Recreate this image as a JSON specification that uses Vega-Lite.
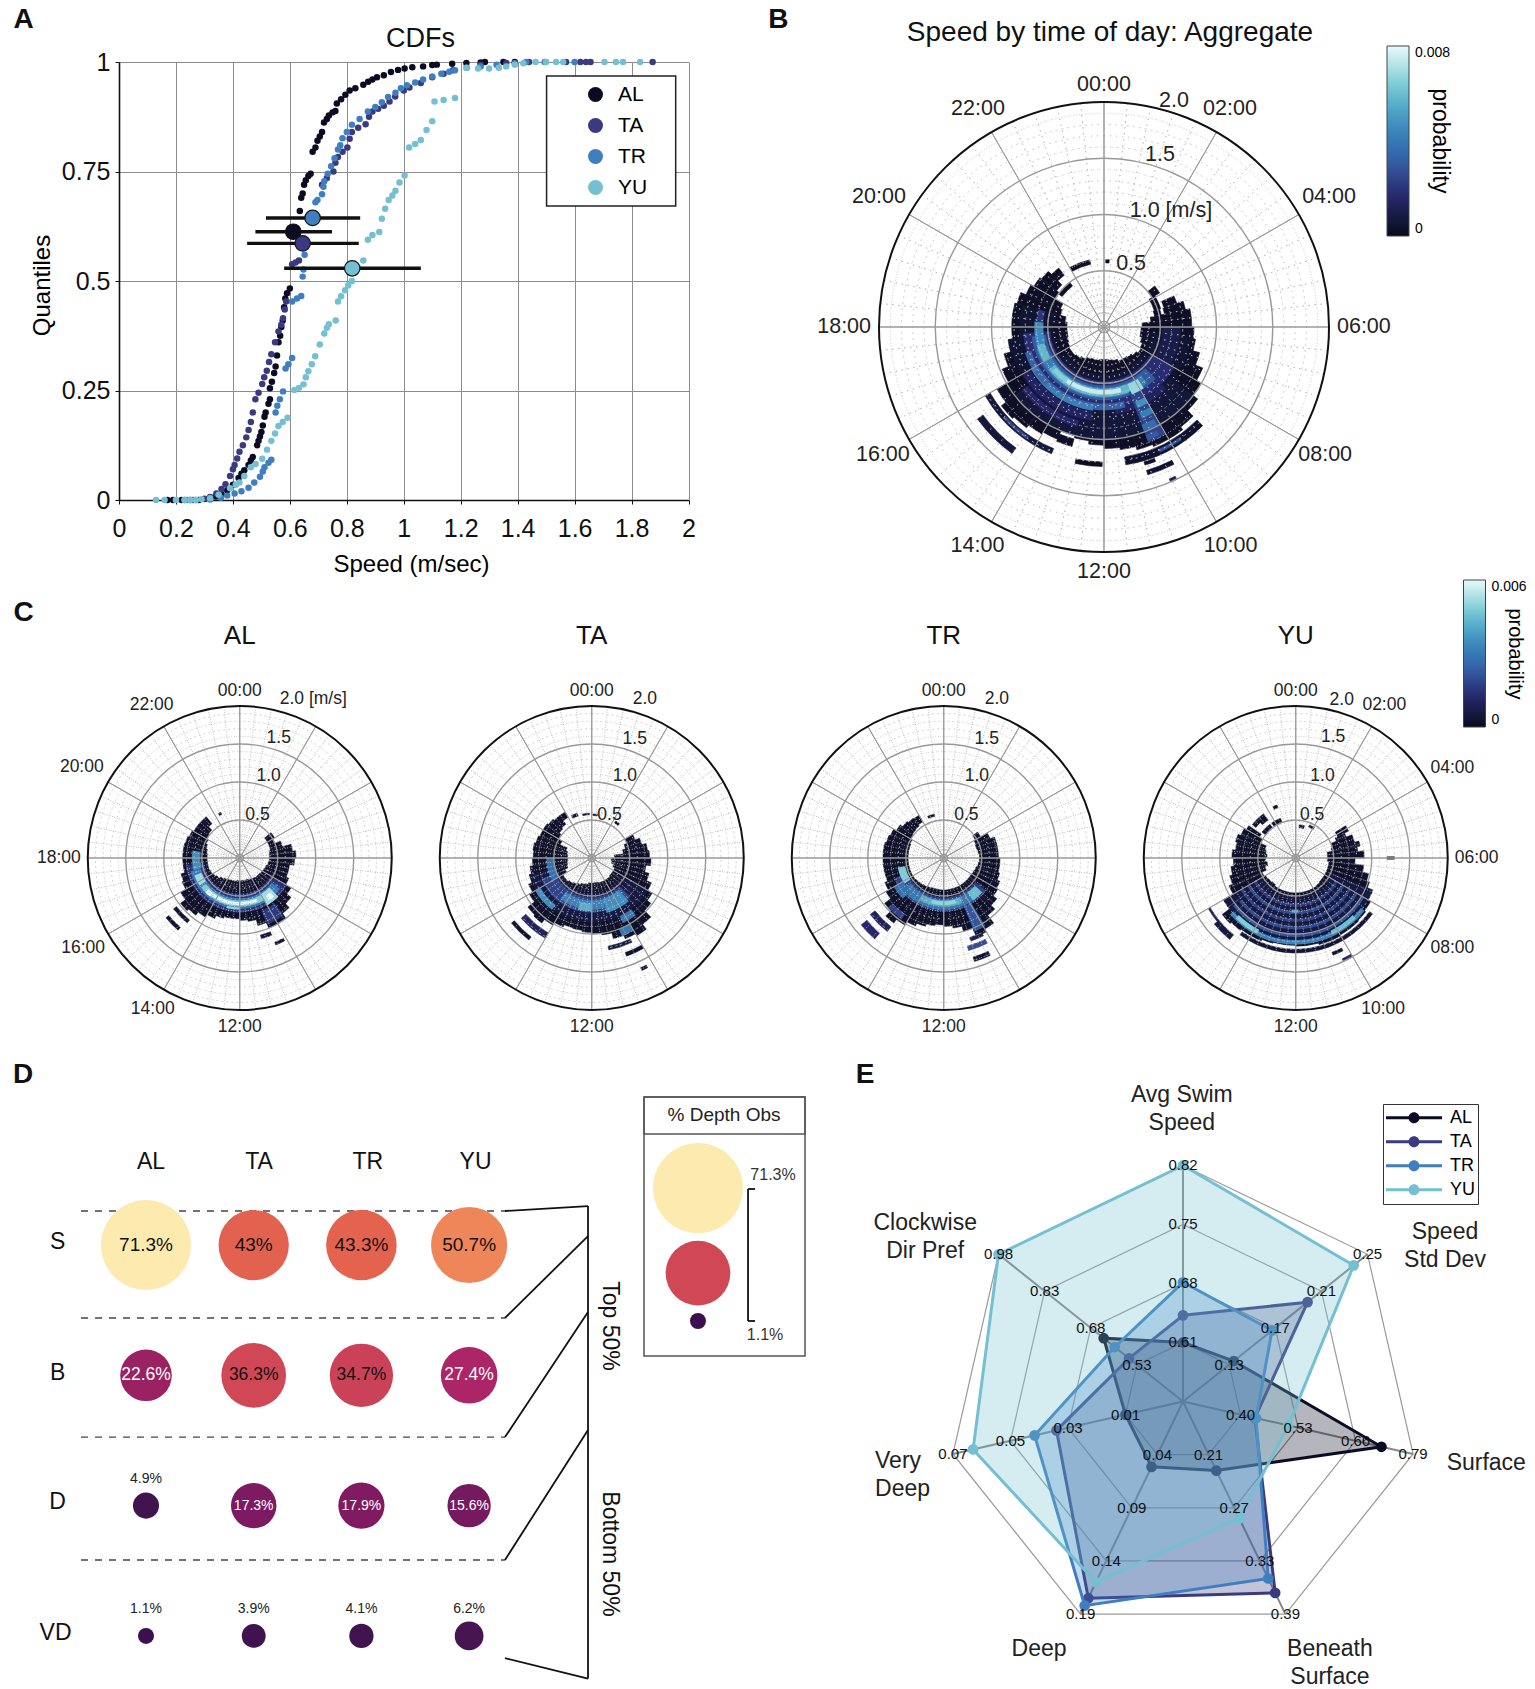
{"$schema":"https://vega.github.io/schema/vega-lite/v6.json","background":"white","padding":{"left":0,"top":5,"right":0,"bottom":0},"config":{"font":"Liberation Sans","view":{"stroke":null},"legend":{"titleFontWeight":"normal"}},
"datasets":{
"cdf":[
{"sp":"AL","x":0.17,"q":0},{"sp":"AL","x":0.19,"q":0},{"sp":"AL","x":0.22,"q":0},{"sp":"AL","x":0.25,"q":0},{"sp":"AL","x":0.28,"q":0},{"sp":"AL","x":0.3,"q":0.002},{"sp":"AL","x":0.32,"q":0.004},{"sp":"AL","x":0.34,"q":0.008},{"sp":"AL","x":0.36,"q":0.013},{"sp":"AL","x":0.38,"q":0.022},{"sp":"AL","x":0.4,"q":0.035},{"sp":"AL","x":0.42,"q":0.05},{"sp":"AL","x":0.43,"q":0.06},{"sp":"AL","x":0.44,"q":0.068},{"sp":"AL","x":0.455,"q":0.08},{"sp":"AL","x":0.463,"q":0.09},{"sp":"AL","x":0.47,"q":0.098},{"sp":"AL","x":0.485,"q":0.125},{"sp":"AL","x":0.49,"q":0.135},{"sp":"AL","x":0.495,"q":0.145},{"sp":"AL","x":0.5,"q":0.155},{"sp":"AL","x":0.505,"q":0.17},{"sp":"AL","x":0.511,"q":0.19},{"sp":"AL","x":0.515,"q":0.2},{"sp":"AL","x":0.525,"q":0.22},{"sp":"AL","x":0.53,"q":0.23},{"sp":"AL","x":0.53,"q":0.255},{"sp":"AL","x":0.537,"q":0.27},{"sp":"AL","x":0.545,"q":0.29},{"sp":"AL","x":0.55,"q":0.305},{"sp":"AL","x":0.555,"q":0.33},{"sp":"AL","x":0.56,"q":0.36},{"sp":"AL","x":0.566,"q":0.375},{"sp":"AL","x":0.57,"q":0.395},{"sp":"AL","x":0.575,"q":0.41},{"sp":"AL","x":0.58,"q":0.44},{"sp":"AL","x":0.584,"q":0.46},{"sp":"AL","x":0.59,"q":0.472},{"sp":"AL","x":0.6,"q":0.483},{"sp":"AL","x":0.635,"q":0.66},{"sp":"AL","x":0.64,"q":0.69},{"sp":"AL","x":0.645,"q":0.7},{"sp":"AL","x":0.65,"q":0.72},{"sp":"AL","x":0.656,"q":0.73},{"sp":"AL","x":0.665,"q":0.74},{"sp":"AL","x":0.673,"q":0.745},{"sp":"AL","x":0.68,"q":0.795},{"sp":"AL","x":0.69,"q":0.805},{"sp":"AL","x":0.697,"q":0.82},{"sp":"AL","x":0.705,"q":0.83},{"sp":"AL","x":0.713,"q":0.84},{"sp":"AL","x":0.72,"q":0.862},{"sp":"AL","x":0.73,"q":0.87},{"sp":"AL","x":0.737,"q":0.878},{"sp":"AL","x":0.75,"q":0.885},{"sp":"AL","x":0.76,"q":0.888},{"sp":"AL","x":0.765,"q":0.905},{"sp":"AL","x":0.78,"q":0.915},{"sp":"AL","x":0.795,"q":0.925},{"sp":"AL","x":0.81,"q":0.935},{"sp":"AL","x":0.83,"q":0.94},{"sp":"AL","x":0.858,"q":0.948},{"sp":"AL","x":0.875,"q":0.955},{"sp":"AL","x":0.89,"q":0.96},{"sp":"AL","x":0.906,"q":0.965},{"sp":"AL","x":0.93,"q":0.97},{"sp":"AL","x":0.955,"q":0.977},{"sp":"AL","x":0.98,"q":0.982},{"sp":"AL","x":1.003,"q":0.985},{"sp":"AL","x":1.03,"q":0.988},{"sp":"AL","x":1.068,"q":0.99},{"sp":"AL","x":1.1,"q":0.993},{"sp":"AL","x":1.116,"q":0.994},{"sp":"AL","x":1.17,"q":0.996},{"sp":"AL","x":1.22,"q":0.998},{"sp":"AL","x":1.27,"q":0.999},{"sp":"AL","x":1.285,"q":1},{"sp":"AL","x":1.35,"q":1},{"sp":"AL","x":1.39,"q":1},
{"sp":"TA","x":0.23,"q":0},{"sp":"TA","x":0.26,"q":0},{"sp":"TA","x":0.3,"q":0.003},{"sp":"TA","x":0.32,"q":0.007},{"sp":"TA","x":0.342,"q":0.015},{"sp":"TA","x":0.36,"q":0.025},{"sp":"TA","x":0.374,"q":0.036},{"sp":"TA","x":0.39,"q":0.055},{"sp":"TA","x":0.4,"q":0.07},{"sp":"TA","x":0.406,"q":0.08},{"sp":"TA","x":0.415,"q":0.095},{"sp":"TA","x":0.423,"q":0.11},{"sp":"TA","x":0.435,"q":0.125},{"sp":"TA","x":0.447,"q":0.143},{"sp":"TA","x":0.455,"q":0.16},{"sp":"TA","x":0.463,"q":0.178},{"sp":"TA","x":0.47,"q":0.2},{"sp":"TA","x":0.479,"q":0.23},{"sp":"TA","x":0.49,"q":0.245},{"sp":"TA","x":0.503,"q":0.265},{"sp":"TA","x":0.51,"q":0.28},{"sp":"TA","x":0.519,"q":0.295},{"sp":"TA","x":0.527,"q":0.315},{"sp":"TA","x":0.535,"q":0.333},{"sp":"TA","x":0.548,"q":0.36},{"sp":"TA","x":0.56,"q":0.385},{"sp":"TA","x":0.57,"q":0.4},{"sp":"TA","x":0.576,"q":0.415},{"sp":"TA","x":0.582,"q":0.435},{"sp":"TA","x":0.587,"q":0.453},{"sp":"TA","x":0.608,"q":0.538},{"sp":"TA","x":0.62,"q":0.542},{"sp":"TA","x":0.632,"q":0.547},{"sp":"TA","x":0.713,"q":0.72},{"sp":"TA","x":0.73,"q":0.735},{"sp":"TA","x":0.753,"q":0.75},{"sp":"TA","x":0.76,"q":0.77},{"sp":"TA","x":0.769,"q":0.783},{"sp":"TA","x":0.785,"q":0.795},{"sp":"TA","x":0.802,"q":0.805},{"sp":"TA","x":0.81,"q":0.825},{"sp":"TA","x":0.818,"q":0.84},{"sp":"TA","x":0.84,"q":0.85},{"sp":"TA","x":0.866,"q":0.858},{"sp":"TA","x":0.878,"q":0.875},{"sp":"TA","x":0.89,"q":0.887},{"sp":"TA","x":0.91,"q":0.893},{"sp":"TA","x":0.93,"q":0.9},{"sp":"TA","x":0.95,"q":0.91},{"sp":"TA","x":0.97,"q":0.921},{"sp":"TA","x":1,"q":0.935},{"sp":"TA","x":1.02,"q":0.942},{"sp":"TA","x":1.06,"q":0.952},{"sp":"TA","x":1.1,"q":0.965},{"sp":"TA","x":1.14,"q":0.973},{"sp":"TA","x":1.173,"q":0.981},{"sp":"TA","x":1.27,"q":0.994},{"sp":"TA","x":1.36,"q":0.998},{"sp":"TA","x":1.44,"q":1},{"sp":"TA","x":1.57,"q":1},{"sp":"TA","x":1.62,"q":1},{"sp":"TA","x":1.64,"q":1},{"sp":"TA","x":1.656,"q":1},{"sp":"TA","x":1.874,"q":1},
{"sp":"TR","x":0.24,"q":0},{"sp":"TR","x":0.27,"q":0},{"sp":"TR","x":0.32,"q":0.001},{"sp":"TR","x":0.358,"q":0.005},{"sp":"TR","x":0.38,"q":0.01},{"sp":"TR","x":0.406,"q":0.015},{"sp":"TR","x":0.43,"q":0.02},{"sp":"TR","x":0.455,"q":0.028},{"sp":"TR","x":0.475,"q":0.04},{"sp":"TR","x":0.495,"q":0.053},{"sp":"TR","x":0.505,"q":0.065},{"sp":"TR","x":0.511,"q":0.075},{"sp":"TR","x":0.525,"q":0.085},{"sp":"TR","x":0.535,"q":0.092},{"sp":"TR","x":0.55,"q":0.2},{"sp":"TR","x":0.556,"q":0.215},{"sp":"TR","x":0.565,"q":0.23},{"sp":"TR","x":0.576,"q":0.248},{"sp":"TR","x":0.585,"q":0.3},{"sp":"TR","x":0.595,"q":0.31},{"sp":"TR","x":0.608,"q":0.324},{"sp":"TR","x":0.608,"q":0.453},{"sp":"TR","x":0.625,"q":0.46},{"sp":"TR","x":0.64,"q":0.466},{"sp":"TR","x":0.645,"q":0.51},{"sp":"TR","x":0.648,"q":0.526},{"sp":"TR","x":0.652,"q":0.56},{"sp":"TR","x":0.656,"q":0.582},{"sp":"TR","x":0.69,"q":0.68},{"sp":"TR","x":0.697,"q":0.685},{"sp":"TR","x":0.713,"q":0.698},{"sp":"TR","x":0.718,"q":0.715},{"sp":"TR","x":0.721,"q":0.728},{"sp":"TR","x":0.733,"q":0.745},{"sp":"TR","x":0.745,"q":0.762},{"sp":"TR","x":0.757,"q":0.78},{"sp":"TR","x":0.769,"q":0.8},{"sp":"TR","x":0.777,"q":0.81},{"sp":"TR","x":0.785,"q":0.826},{"sp":"TR","x":0.8,"q":0.84},{"sp":"TR","x":0.818,"q":0.857},{"sp":"TR","x":0.845,"q":0.87},{"sp":"TR","x":0.874,"q":0.887},{"sp":"TR","x":0.9,"q":0.897},{"sp":"TR","x":0.923,"q":0.908},{"sp":"TR","x":0.945,"q":0.92},{"sp":"TR","x":0.971,"q":0.93},{"sp":"TR","x":0.99,"q":0.94},{"sp":"TR","x":1.011,"q":0.947},{"sp":"TR","x":1.04,"q":0.953},{"sp":"TR","x":1.068,"q":0.96},{"sp":"TR","x":1.1,"q":0.967},{"sp":"TR","x":1.132,"q":0.973},{"sp":"TR","x":1.16,"q":0.978},{"sp":"TR","x":1.18,"q":0.981},{"sp":"TR","x":1.221,"q":0.987},{"sp":"TR","x":1.27,"q":0.99},{"sp":"TR","x":1.326,"q":0.994},{"sp":"TR","x":1.39,"q":0.997},{"sp":"TR","x":1.43,"q":1},{"sp":"TR","x":1.495,"q":1},{"sp":"TR","x":1.6,"q":1},
{"sp":"YU","x":0.13,"q":0},{"sp":"YU","x":0.16,"q":0},{"sp":"YU","x":0.2,"q":0},{"sp":"YU","x":0.23,"q":0},{"sp":"YU","x":0.25,"q":0},{"sp":"YU","x":0.27,"q":0},{"sp":"YU","x":0.29,"q":0.002},{"sp":"YU","x":0.32,"q":0.004},{"sp":"YU","x":0.35,"q":0.012},{"sp":"YU","x":0.39,"q":0.027},{"sp":"YU","x":0.41,"q":0.035},{"sp":"YU","x":0.423,"q":0.04},{"sp":"YU","x":0.44,"q":0.055},{"sp":"YU","x":0.463,"q":0.075},{"sp":"YU","x":0.48,"q":0.082},{"sp":"YU","x":0.503,"q":0.094},{"sp":"YU","x":0.52,"q":0.115},{"sp":"YU","x":0.535,"q":0.135},{"sp":"YU","x":0.548,"q":0.152},{"sp":"YU","x":0.56,"q":0.169},{"sp":"YU","x":0.575,"q":0.178},{"sp":"YU","x":0.592,"q":0.188},{"sp":"YU","x":0.616,"q":0.251},{"sp":"YU","x":0.632,"q":0.256},{"sp":"YU","x":0.648,"q":0.264},{"sp":"YU","x":0.656,"q":0.28},{"sp":"YU","x":0.665,"q":0.294},{"sp":"YU","x":0.677,"q":0.31},{"sp":"YU","x":0.689,"q":0.328},{"sp":"YU","x":0.705,"q":0.355},{"sp":"YU","x":0.721,"q":0.38},{"sp":"YU","x":0.73,"q":0.393},{"sp":"YU","x":0.737,"q":0.401},{"sp":"YU","x":0.761,"q":0.41},{"sp":"YU","x":0.769,"q":0.453},{"sp":"YU","x":0.78,"q":0.465},{"sp":"YU","x":0.794,"q":0.479},{"sp":"YU","x":0.805,"q":0.49},{"sp":"YU","x":0.818,"q":0.5},{"sp":"YU","x":0.84,"q":0.53},{"sp":"YU","x":0.858,"q":0.547},{"sp":"YU","x":0.874,"q":0.594},{"sp":"YU","x":0.89,"q":0.605},{"sp":"YU","x":0.914,"q":0.612},{"sp":"YU","x":0.923,"q":0.642},{"sp":"YU","x":0.935,"q":0.665},{"sp":"YU","x":0.947,"q":0.685},{"sp":"YU","x":0.96,"q":0.695},{"sp":"YU","x":0.971,"q":0.706},{"sp":"YU","x":0.985,"q":0.725},{"sp":"YU","x":1.003,"q":0.741},{"sp":"YU","x":1.019,"q":0.805},{"sp":"YU","x":1.04,"q":0.813},{"sp":"YU","x":1.06,"q":0.822},{"sp":"YU","x":1.08,"q":0.845},{"sp":"YU","x":1.1,"q":0.865},{"sp":"YU","x":1.108,"q":0.91},{"sp":"YU","x":1.14,"q":0.913},{"sp":"YU","x":1.18,"q":0.918},{"sp":"YU","x":1.22,"q":0.987},{"sp":"YU","x":1.261,"q":0.985},{"sp":"YU","x":1.3,"q":0.985},{"sp":"YU","x":1.334,"q":0.987},{"sp":"YU","x":1.36,"q":0.99},{"sp":"YU","x":1.39,"q":0.994},{"sp":"YU","x":1.42,"q":0.997},{"sp":"YU","x":1.463,"q":1},{"sp":"YU","x":1.5,"q":1},{"sp":"YU","x":1.535,"q":1},{"sp":"YU","x":1.56,"q":1},{"sp":"YU","x":1.705,"q":1},{"sp":"YU","x":1.745,"q":1},{"sp":"YU","x":1.77,"q":1},{"sp":"YU","x":1.83,"q":1}],
"means":[{"sp":"AL","x":0.612,"lo":0.479,"hi":0.748,"q":0.6125},{"sp":"TA","x":0.645,"lo":0.45,"hi":0.842,"q":0.586},{"sp":"TR","x":0.68,"lo":0.516,"hi":0.847,"q":0.644},{"sp":"YU","x":0.819,"lo":0.58,"hi":1.06,"q":0.529}],
"dotRings":[{"h":0,"h2":24,"s":0.1,"s2":0.1},{"h":0,"h2":24,"s":0.2,"s2":0.2},{"h":0,"h2":24,"s":0.3,"s2":0.3},{"h":0,"h2":24,"s":0.4,"s2":0.4},{"h":0,"h2":24,"s":0.6,"s2":0.6},{"h":0,"h2":24,"s":0.7,"s2":0.7},{"h":0,"h2":24,"s":0.8,"s2":0.8},{"h":0,"h2":24,"s":0.9,"s2":0.9},{"h":0,"h2":24,"s":1.1,"s2":1.1},{"h":0,"h2":24,"s":1.2,"s2":1.2},{"h":0,"h2":24,"s":1.3,"s2":1.3},{"h":0,"h2":24,"s":1.4,"s2":1.4},{"h":0,"h2":24,"s":1.6,"s2":1.6},{"h":0,"h2":24,"s":1.7,"s2":1.7},{"h":0,"h2":24,"s":1.8,"s2":1.8},{"h":0,"h2":24,"s":1.9,"s2":1.9}],
"dotSpokes":[{"h":0.4,"h2":0.4,"s":0.1,"s2":2},{"h":0.8,"h2":0.8,"s":0.1,"s2":2},{"h":1.2,"h2":1.2,"s":0.1,"s2":2},{"h":1.6,"h2":1.6,"s":0.1,"s2":2},{"h":2.4,"h2":2.4,"s":0.1,"s2":2},{"h":2.8,"h2":2.8,"s":0.1,"s2":2},{"h":3.2,"h2":3.2,"s":0.1,"s2":2},{"h":3.6,"h2":3.6,"s":0.1,"s2":2},{"h":4.4,"h2":4.4,"s":0.1,"s2":2},{"h":4.8,"h2":4.8,"s":0.1,"s2":2},{"h":5.2,"h2":5.2,"s":0.1,"s2":2},{"h":5.6,"h2":5.6,"s":0.1,"s2":2},{"h":6.4,"h2":6.4,"s":0.1,"s2":2},{"h":6.8,"h2":6.8,"s":0.1,"s2":2},{"h":7.2,"h2":7.2,"s":0.1,"s2":2},{"h":7.6,"h2":7.6,"s":0.1,"s2":2},{"h":8.4,"h2":8.4,"s":0.1,"s2":2},{"h":8.8,"h2":8.8,"s":0.1,"s2":2},{"h":9.2,"h2":9.2,"s":0.1,"s2":2},{"h":9.6,"h2":9.6,"s":0.1,"s2":2},{"h":10.4,"h2":10.4,"s":0.1,"s2":2},{"h":10.8,"h2":10.8,"s":0.1,"s2":2},{"h":11.2,"h2":11.2,"s":0.1,"s2":2},{"h":11.6,"h2":11.6,"s":0.1,"s2":2},{"h":12.4,"h2":12.4,"s":0.1,"s2":2},{"h":12.8,"h2":12.8,"s":0.1,"s2":2},{"h":13.2,"h2":13.2,"s":0.1,"s2":2},{"h":13.6,"h2":13.6,"s":0.1,"s2":2},{"h":14.4,"h2":14.4,"s":0.1,"s2":2},{"h":14.8,"h2":14.8,"s":0.1,"s2":2},{"h":15.2,"h2":15.2,"s":0.1,"s2":2},{"h":15.6,"h2":15.6,"s":0.1,"s2":2},{"h":16.4,"h2":16.4,"s":0.1,"s2":2},{"h":16.8,"h2":16.8,"s":0.1,"s2":2},{"h":17.2,"h2":17.2,"s":0.1,"s2":2},{"h":17.6,"h2":17.6,"s":0.1,"s2":2},{"h":18.4,"h2":18.4,"s":0.1,"s2":2},{"h":18.8,"h2":18.8,"s":0.1,"s2":2},{"h":19.2,"h2":19.2,"s":0.1,"s2":2},{"h":19.6,"h2":19.6,"s":0.1,"s2":2},{"h":20.4,"h2":20.4,"s":0.1,"s2":2},{"h":20.8,"h2":20.8,"s":0.1,"s2":2},{"h":21.2,"h2":21.2,"s":0.1,"s2":2},{"h":21.6,"h2":21.6,"s":0.1,"s2":2},{"h":22.4,"h2":22.4,"s":0.1,"s2":2},{"h":22.8,"h2":22.8,"s":0.1,"s2":2},{"h":23.2,"h2":23.2,"s":0.1,"s2":2},{"h":23.6,"h2":23.6,"s":0.1,"s2":2}],
"rings":[{"h":0,"h2":24,"s":0.05,"s2":0.05},{"h":0,"h2":24,"s":0.5,"s2":0.5},{"h":0,"h2":24,"s":1,"s2":1},{"h":0,"h2":24,"s":1.5,"s2":1.5}],
"rim":[{"h":0,"h2":24,"s":2,"s2":2}],
"spokes":[{"h":0,"h2":0,"s":0,"s2":2},{"h":2,"h2":2,"s":0,"s2":2},{"h":4,"h2":4,"s":0,"s2":2},{"h":6,"h2":6,"s":0,"s2":2},{"h":8,"h2":8,"s":0,"s2":2},{"h":10,"h2":10,"s":0,"s2":2},{"h":12,"h2":12,"s":0,"s2":2},{"h":14,"h2":14,"s":0,"s2":2},{"h":16,"h2":16,"s":0,"s2":2},{"h":18,"h2":18,"s":0,"s2":2},{"h":20,"h2":20,"s":0,"s2":2},{"h":22,"h2":22,"s":0,"s2":2}],
"heatB":[
{"h":3.4,"h2":3.9,"s":0.5,"s2":0.58,"p":0.0002},{"h":3.9,"h2":4.8,"s":0.47,"s2":0.53,"p":0.0002},{"h":4.4,"h2":4.8,"s":0.56,"s2":0.68,"p":0.0002},{"h":4.8,"h2":5.2,"s":0.55,"s2":0.74,"p":0.0002},{"h":4.8,"h2":5.2,"s":0.46,"s2":0.52,"p":0.0002},{"h":5.2,"h2":5.6,"s":0.42,"s2":0.78,"p":0.0002},{"h":5.6,"h2":6,"s":0.34,"s2":0.78,"p":0.0002},{"h":6,"h2":6.5,"s":0.33,"s2":0.8,"p":0.0002},{"h":6.5,"h2":7,"s":0.33,"s2":0.82,"p":0.0002},{"h":7,"h2":7.5,"s":0.35,"s2":0.88,"p":0.0002},{"h":7.5,"h2":8,"s":0.37,"s2":0.95,"p":0.0002},{"h":8,"h2":8.5,"s":0.38,"s2":1,"p":0.0002},{"h":8.5,"h2":9,"s":0.36,"s2":1.05,"p":0.0002},{"h":9,"h2":9.5,"s":0.34,"s2":1.12,"p":0.0002},{"h":9.5,"h2":10,"s":0.33,"s2":1.15,"p":0.0002},{"h":10,"h2":10.5,"s":0.33,"s2":1.15,"p":0.0002},{"h":10.5,"h2":11,"s":0.31,"s2":1.13,"p":0.0002},{"h":11,"h2":11.5,"s":0.3,"s2":1.1,"p":0.0002},{"h":11.5,"h2":12,"s":0.29,"s2":1.08,"p":0.0002},{"h":12,"h2":12.5,"s":0.29,"s2":1.05,"p":0.0002},{"h":12.5,"h2":13,"s":0.3,"s2":1.02,"p":0.0002},{"h":13,"h2":13.5,"s":0.3,"s2":1,"p":0.0002},{"h":13,"h2":13.5,"s":1.03,"s2":1.1,"p":0.0002},{"h":13.5,"h2":14,"s":0.31,"s2":1.08,"p":0.0002},{"h":14,"h2":14.5,"s":0.33,"s2":1.1,"p":0.0002},{"h":14.5,"h2":15,"s":0.35,"s2":1.13,"p":0.0002},{"h":15,"h2":15.5,"s":0.36,"s2":1.15,"p":0.0002},{"h":15.5,"h2":16,"s":0.36,"s2":1.1,"p":0.0002},{"h":16,"h2":16.5,"s":0.35,"s2":0.98,"p":0.0002},{"h":16.5,"h2":17,"s":0.34,"s2":0.92,"p":0.0002},{"h":17,"h2":17.5,"s":0.33,"s2":0.86,"p":0.0002},{"h":17.5,"h2":18,"s":0.33,"s2":0.82,"p":0.0002},{"h":18,"h2":18.5,"s":0.33,"s2":0.82,"p":0.0002},{"h":18.5,"h2":19,"s":0.35,"s2":0.82,"p":0.0002},{"h":19,"h2":19.5,"s":0.4,"s2":0.8,"p":0.0002},{"h":19.5,"h2":20,"s":0.42,"s2":0.75,"p":0.0002},{"h":20,"h2":20.5,"s":0.5,"s2":0.72,"p":0.0002},{"h":20.5,"h2":21,"s":0.53,"s2":0.7,"p":0.0002},{"h":21,"h2":21.5,"s":0.58,"s2":0.66,"p":0.0002},{"h":20.4,"h2":21.5,"s":0.46,"s2":0.5,"p":0.0002},{"h":22,"h2":23.2,"s":0.57,"s2":0.61,"p":0.0002},{"h":0.1,"h2":0.3,"s":0.57,"s2":0.6,"p":0.0001},
{"h":13.5,"h2":16,"s":1.17,"s2":1.22,"p":0.0006},{"h":14.3,"h2":15.2,"s":1.18,"s2":1.21,"p":0.0025},{"h":14.4,"h2":15.6,"s":1.33,"s2":1.39,"p":0.0006},{"h":12.05,"h2":12.8,"s":1.2,"s2":1.24,"p":0.0001},{"h":9,"h2":11.4,"s":1.17,"s2":1.24,"p":0.0004},{"h":9.7,"h2":10.4,"s":1.19,"s2":1.22,"p":0.0028},{"h":10.2,"h2":10.9,"s":1.33,"s2":1.37,"p":0.0004},{"h":10.3,"h2":10.45,"s":1.47,"s2":1.5,"p":0.0012},{"h":10.6,"h2":10.9,"s":1.25,"s2":1.28,"p":0.0002},
{"h":8.5,"h2":15.5,"s":0.42,"s2":1,"p":0.0006},{"h":6.5,"h2":8.5,"s":0.42,"s2":0.78,"p":0.0005},{"h":15.5,"h2":17.5,"s":0.45,"s2":0.85,"p":0.0005},{"h":17.5,"h2":19,"s":0.45,"s2":0.75,"p":0.0005},{"h":6,"h2":9,"s":0.52,"s2":0.68,"p":0.001},{"h":8,"h2":17.7,"s":0.48,"s2":0.72,"p":0.0018},{"h":12.5,"h2":16,"s":0.76,"s2":0.84,"p":0.0014},{"h":13,"h2":15.5,"s":0.86,"s2":0.92,"p":0.0016},{"h":9,"h2":11.5,"s":0.72,"s2":0.78,"p":0.0014},{"h":11,"h2":16.8,"s":0.68,"s2":0.74,"p":0.0032},{"h":12.5,"h2":16,"s":0.7,"s2":0.75,"p":0.0042},{"h":9,"h2":17.5,"s":0.52,"s2":0.65,"p":0.003},{"h":9.5,"h2":16.8,"s":0.54,"s2":0.63,"p":0.0042},{"h":10,"h2":15.5,"s":0.55,"s2":0.62,"p":0.0058},{"h":11,"h2":14.5,"s":0.56,"s2":0.6,"p":0.0075},{"h":14.3,"h2":15.3,"s":0.56,"s2":0.6,"p":0.0065},{"h":16,"h2":17,"s":0.55,"s2":0.62,"p":0.0058},{"h":17,"h2":18.3,"s":0.54,"s2":0.62,"p":0.0045},{"h":18.3,"h2":19,"s":0.54,"s2":0.6,"p":0.002},{"h":10,"h2":10.6,"s":0.62,"s2":1.1,"p":0.0024},{"h":9.8,"h2":10.5,"s":0.55,"s2":0.65,"p":0.0068},{"h":10,"h2":10.5,"s":0.72,"s2":0.78,"p":0.0048},{"h":10,"h2":10.5,"s":0.82,"s2":0.88,"p":0.0042},{"h":10.1,"h2":10.6,"s":0.93,"s2":0.99,"p":0.0036},{"h":10.2,"h2":10.6,"s":1.03,"s2":1.08,"p":0.003},{"h":15,"h2":15.8,"s":0.68,"s2":0.74,"p":0.0035}],
"heatAL":[
{"h":3.4,"h2":4,"s":0.42,"s2":0.53,"p":0.0002},{"h":4,"h2":4.5,"s":0.42,"s2":0.5,"p":0.0002},{"h":4.5,"h2":5,"s":0.42,"s2":0.58,"p":0.0002},{"h":5,"h2":5.5,"s":0.4,"s2":0.7,"p":0.0002},{"h":5.5,"h2":6,"s":0.39,"s2":0.74,"p":0.0002},{"h":6,"h2":6.5,"s":0.39,"s2":0.72,"p":0.0002},{"h":6.5,"h2":7,"s":0.38,"s2":0.66,"p":0.0002},{"h":7,"h2":7.5,"s":0.36,"s2":0.66,"p":0.0002},{"h":7.5,"h2":8,"s":0.35,"s2":0.7,"p":0.0002},{"h":8,"h2":8.5,"s":0.34,"s2":0.78,"p":0.0002},{"h":8.5,"h2":9,"s":0.33,"s2":0.85,"p":0.0002},{"h":9,"h2":9.5,"s":0.33,"s2":0.92,"p":0.0002},{"h":9.5,"h2":10,"s":0.32,"s2":1,"p":0.0002},{"h":10,"h2":10.5,"s":0.31,"s2":1,"p":0.0002},{"h":10.5,"h2":11,"s":0.3,"s2":0.92,"p":0.0002},{"h":11,"h2":11.5,"s":0.3,"s2":0.84,"p":0.0002},{"h":11.5,"h2":12,"s":0.3,"s2":0.82,"p":0.0002},{"h":12,"h2":12.5,"s":0.3,"s2":0.8,"p":0.0002},{"h":12.5,"h2":13,"s":0.31,"s2":0.8,"p":0.0002},{"h":13,"h2":13.5,"s":0.31,"s2":0.82,"p":0.0002},{"h":13.5,"h2":14,"s":0.32,"s2":0.86,"p":0.0002},{"h":14,"h2":14.5,"s":0.33,"s2":0.9,"p":0.0002},{"h":14.5,"h2":15,"s":0.35,"s2":0.95,"p":0.0002},{"h":15,"h2":15.5,"s":0.38,"s2":0.98,"p":0.0002},{"h":15.5,"h2":16,"s":0.4,"s2":0.9,"p":0.0002},{"h":16,"h2":16.5,"s":0.42,"s2":0.82,"p":0.0002},{"h":16.5,"h2":17,"s":0.43,"s2":0.8,"p":0.0002},{"h":17,"h2":17.5,"s":0.43,"s2":0.75,"p":0.0002},{"h":17.5,"h2":18,"s":0.43,"s2":0.75,"p":0.0002},{"h":18,"h2":18.5,"s":0.43,"s2":0.75,"p":0.0002},{"h":18.5,"h2":19,"s":0.44,"s2":0.75,"p":0.0002},{"h":19,"h2":19.5,"s":0.46,"s2":0.74,"p":0.0002},{"h":19.5,"h2":20,"s":0.48,"s2":0.72,"p":0.0002},{"h":20,"h2":20.5,"s":0.5,"s2":0.7,"p":0.0002},{"h":20.5,"h2":21,"s":0.52,"s2":0.7,"p":0.0002},{"h":21,"h2":21.4,"s":0.58,"s2":0.7,"p":0.0002},
{"h":14.6,"h2":15.5,"s":1.05,"s2":1.1,"p":0.0004},{"h":14.7,"h2":15.4,"s":1.2,"s2":1.25,"p":0.0003},{"h":10.5,"h2":11,"s":1.05,"s2":1.1,"p":0.0006},{"h":10.1,"h2":10.5,"s":1.2,"s2":1.24,"p":0.0004},{"h":22.3,"h2":22.5,"s":0.62,"s2":0.65,"p":0.0001},
{"h":8,"h2":17.5,"s":0.47,"s2":0.72,"p":0.0014},{"h":8.5,"h2":17,"s":0.53,"s2":0.67,"p":0.003},{"h":9,"h2":15.5,"s":0.56,"s2":0.64,"p":0.0048},{"h":10.5,"h2":14.5,"s":0.58,"s2":0.62,"p":0.006},{"h":9,"h2":10,"s":0.55,"s2":0.72,"p":0.0052},{"h":15.7,"h2":16.6,"s":0.54,"s2":0.64,"p":0.0052},{"h":17,"h2":18.6,"s":0.52,"s2":0.63,"p":0.0035},{"h":9.2,"h2":9.7,"s":0.6,"s2":0.68,"p":0.006},{"h":14.5,"h2":15,"s":0.58,"s2":0.64,"p":0.006},{"h":12,"h2":13,"s":0.65,"s2":0.68,"p":0.005},{"h":9.5,"h2":10.5,"s":0.75,"s2":0.95,"p":0.0016}],
"heatTA":[
{"h":4,"h2":4.5,"s":0.5,"s2":0.62,"p":0.0002},{"h":4.5,"h2":5,"s":0.46,"s2":0.68,"p":0.0002},{"h":5,"h2":5.5,"s":0.42,"s2":0.74,"p":0.0002},{"h":5.5,"h2":6,"s":0.3,"s2":0.76,"p":0.0002},{"h":6,"h2":6.5,"s":0.26,"s2":0.78,"p":0.0002},{"h":6.5,"h2":7,"s":0.27,"s2":0.72,"p":0.0002},{"h":7,"h2":7.5,"s":0.3,"s2":0.78,"p":0.0002},{"h":7.5,"h2":8,"s":0.33,"s2":0.85,"p":0.0002},{"h":8,"h2":8.5,"s":0.33,"s2":0.92,"p":0.0002},{"h":8.5,"h2":9,"s":0.33,"s2":0.98,"p":0.0002},{"h":9,"h2":9.5,"s":0.34,"s2":1.1,"p":0.0002},{"h":9.5,"h2":10,"s":0.34,"s2":1.18,"p":0.0002},{"h":10,"h2":10.5,"s":0.34,"s2":1.15,"p":0.0002},{"h":10.5,"h2":11,"s":0.34,"s2":1.1,"p":0.0002},{"h":11,"h2":11.5,"s":0.33,"s2":1.02,"p":0.0002},{"h":11.5,"h2":12,"s":0.33,"s2":1,"p":0.0002},{"h":12,"h2":12.5,"s":0.33,"s2":0.98,"p":0.0002},{"h":12.5,"h2":13,"s":0.35,"s2":0.96,"p":0.0002},{"h":13,"h2":13.5,"s":0.36,"s2":0.95,"p":0.0002},{"h":13.5,"h2":14,"s":0.38,"s2":0.98,"p":0.0002},{"h":14,"h2":14.5,"s":0.4,"s2":1.02,"p":0.0002},{"h":14.5,"h2":15,"s":0.42,"s2":1.08,"p":0.0002},{"h":15,"h2":15.5,"s":0.44,"s2":1.06,"p":0.0002},{"h":15.5,"h2":16,"s":0.44,"s2":0.95,"p":0.0002},{"h":16,"h2":16.5,"s":0.38,"s2":0.9,"p":0.0002},{"h":16.5,"h2":17,"s":0.34,"s2":0.85,"p":0.0002},{"h":17,"h2":17.5,"s":0.33,"s2":0.82,"p":0.0002},{"h":17.5,"h2":18,"s":0.32,"s2":0.78,"p":0.0002},{"h":18,"h2":18.5,"s":0.32,"s2":0.77,"p":0.0002},{"h":18.5,"h2":19,"s":0.33,"s2":0.78,"p":0.0002},{"h":19,"h2":19.5,"s":0.35,"s2":0.76,"p":0.0002},{"h":19.5,"h2":20,"s":0.45,"s2":0.74,"p":0.0002},{"h":20,"h2":20.5,"s":0.5,"s2":0.74,"p":0.0002},{"h":20.5,"h2":21,"s":0.54,"s2":0.72,"p":0.0002},{"h":21,"h2":21.5,"s":0.56,"s2":0.7,"p":0.0002},{"h":21.5,"h2":22,"s":0.62,"s2":0.7,"p":0.0002},
{"h":14.5,"h2":15.4,"s":1.31,"s2":1.36,"p":0.0003},{"h":14,"h2":15.3,"s":1.14,"s2":1.22,"p":0.001},{"h":10.3,"h2":11.3,"s":1.18,"s2":1.23,"p":0.0006},{"h":10,"h2":10.7,"s":1.32,"s2":1.37,"p":0.0003},{"h":10.2,"h2":10.4,"s":1.58,"s2":1.62,"p":0.0003},{"h":22.3,"h2":22.8,"s":0.58,"s2":0.62,"p":0.0001},{"h":23.2,"h2":23.8,"s":0.57,"s2":0.59,"p":0.0001},{"h":0.1,"h2":0.5,"s":0.56,"s2":0.58,"p":0.0001},{"h":2.2,"h2":2.6,"s":0.55,"s2":0.58,"p":0.0001},
{"h":8,"h2":17,"s":0.45,"s2":0.85,"p":0.0006},{"h":9,"h2":16.5,"s":0.52,"s2":0.72,"p":0.0018},{"h":9.3,"h2":11,"s":0.55,"s2":0.75,"p":0.0035},{"h":11,"h2":14.5,"s":0.56,"s2":0.68,"p":0.0032},{"h":12,"h2":13,"s":0.6,"s2":0.7,"p":0.0042},{"h":14.5,"h2":16,"s":0.78,"s2":0.86,"p":0.0035},{"h":16,"h2":18,"s":0.5,"s2":0.6,"p":0.0028},{"h":9.5,"h2":10.3,"s":0.85,"s2":0.95,"p":0.003},{"h":10,"h2":10.6,"s":1,"s2":1.1,"p":0.003}],
"heatTR":[
{"h":3.5,"h2":4,"s":0.48,"s2":0.56,"p":0.0002},{"h":4,"h2":4.5,"s":0.46,"s2":0.66,"p":0.0002},{"h":4.5,"h2":5,"s":0.45,"s2":0.72,"p":0.0002},{"h":5,"h2":5.5,"s":0.46,"s2":0.72,"p":0.0002},{"h":5.5,"h2":6,"s":0.47,"s2":0.72,"p":0.0002},{"h":6,"h2":6.5,"s":0.47,"s2":0.74,"p":0.0002},{"h":6.5,"h2":7,"s":0.46,"s2":0.74,"p":0.0002},{"h":7,"h2":7.5,"s":0.44,"s2":0.76,"p":0.0002},{"h":7.5,"h2":8,"s":0.43,"s2":0.8,"p":0.0002},{"h":8,"h2":8.5,"s":0.42,"s2":0.82,"p":0.0002},{"h":8.5,"h2":9,"s":0.42,"s2":0.88,"p":0.0002},{"h":9,"h2":9.5,"s":0.42,"s2":0.95,"p":0.0002},{"h":9.5,"h2":10,"s":0.42,"s2":1.08,"p":0.0002},{"h":10,"h2":10.5,"s":0.42,"s2":1.12,"p":0.0002},{"h":10.5,"h2":11,"s":0.42,"s2":1,"p":0.0002},{"h":11,"h2":11.5,"s":0.42,"s2":0.93,"p":0.0002},{"h":11.5,"h2":12,"s":0.42,"s2":0.9,"p":0.0002},{"h":12,"h2":12.5,"s":0.42,"s2":0.88,"p":0.0002},{"h":12.5,"h2":13,"s":0.42,"s2":0.9,"p":0.0002},{"h":13,"h2":13.5,"s":0.42,"s2":0.93,"p":0.0002},{"h":13.5,"h2":14,"s":0.43,"s2":0.97,"p":0.0002},{"h":14,"h2":14.5,"s":0.44,"s2":1.02,"p":0.0002},{"h":14.5,"h2":15,"s":0.45,"s2":1.08,"p":0.0002},{"h":15,"h2":15.5,"s":0.46,"s2":0.98,"p":0.0002},{"h":15.5,"h2":16,"s":0.47,"s2":0.88,"p":0.0002},{"h":16,"h2":16.5,"s":0.47,"s2":0.84,"p":0.0002},{"h":16.5,"h2":17,"s":0.47,"s2":0.8,"p":0.0002},{"h":17,"h2":17.5,"s":0.47,"s2":0.8,"p":0.0002},{"h":17.5,"h2":18,"s":0.47,"s2":0.8,"p":0.0002},{"h":18,"h2":18.5,"s":0.47,"s2":0.8,"p":0.0002},{"h":18.5,"h2":19,"s":0.47,"s2":0.8,"p":0.0002},{"h":19,"h2":19.5,"s":0.47,"s2":0.78,"p":0.0002},{"h":19.5,"h2":20,"s":0.48,"s2":0.76,"p":0.0002},{"h":20,"h2":20.5,"s":0.5,"s2":0.72,"p":0.0002},{"h":20.5,"h2":21,"s":0.52,"s2":0.68,"p":0.0002},{"h":21,"h2":21.5,"s":0.53,"s2":0.66,"p":0.0002},{"h":21.5,"h2":22,"s":0.55,"s2":0.65,"p":0.0002},
{"h":14.5,"h2":15.5,"s":1.14,"s2":1.22,"p":0.001},{"h":14.7,"h2":15.4,"s":1.3,"s2":1.4,"p":0.0012},{"h":10.2,"h2":11,"s":1.2,"s2":1.26,"p":0.002},{"h":10.3,"h2":10.9,"s":1.36,"s2":1.42,"p":0.0003},{"h":10.2,"h2":10.8,"s":1.1,"s2":1.15,"p":0.0008},{"h":22.6,"h2":23.2,"s":0.56,"s2":0.59,"p":0.0002},
{"h":8.5,"h2":16.5,"s":0.52,"s2":0.7,"p":0.0018},{"h":9.5,"h2":15.5,"s":0.55,"s2":0.68,"p":0.003},{"h":10.5,"h2":14,"s":0.56,"s2":0.64,"p":0.0042},{"h":11,"h2":13,"s":0.57,"s2":0.62,"p":0.005},{"h":15.8,"h2":17.2,"s":0.52,"s2":0.62,"p":0.0048},{"h":8.8,"h2":9.7,"s":0.55,"s2":0.68,"p":0.0045},{"h":9.9,"h2":10.5,"s":0.7,"s2":1.05,"p":0.0022},{"h":15,"h2":16,"s":0.62,"s2":0.76,"p":0.0028},{"h":14.3,"h2":15.2,"s":0.9,"s2":0.98,"p":0.0018}],
"heatYU":[
{"h":3.8,"h2":4.2,"s":0.62,"s2":0.78,"p":0.0002},{"h":4.2,"h2":4.5,"s":0.58,"s2":0.72,"p":0.0002},{"h":4.5,"h2":5,"s":0.5,"s2":0.8,"p":0.0002},{"h":5,"h2":5.3,"s":0.48,"s2":0.86,"p":0.0002},{"h":5.3,"h2":5.6,"s":0.42,"s2":0.82,"p":0.0002},{"h":5.6,"h2":6,"s":0.42,"s2":0.9,"p":0.0002},{"h":6,"h2":6.4,"s":0.42,"s2":0.78,"p":0.0002},{"h":6.4,"h2":6.8,"s":0.44,"s2":0.9,"p":0.0002},{"h":6.8,"h2":7.2,"s":0.44,"s2":0.98,"p":0.0002},{"h":7.2,"h2":7.6,"s":0.44,"s2":1.02,"p":0.0002},{"h":7.6,"h2":8,"s":0.44,"s2":1.1,"p":0.0002},{"h":8,"h2":8.5,"s":0.44,"s2":1.14,"p":0.0002},{"h":8.5,"h2":9,"s":0.44,"s2":1.16,"p":0.0002},{"h":9,"h2":9.5,"s":0.45,"s2":1.17,"p":0.0002},{"h":9.5,"h2":10,"s":0.46,"s2":1.17,"p":0.0002},{"h":10,"h2":10.5,"s":0.46,"s2":1.18,"p":0.0002},{"h":10.5,"h2":11,"s":0.46,"s2":1.18,"p":0.0002},{"h":11,"h2":12,"s":0.46,"s2":1.16,"p":0.0002},{"h":12,"h2":13,"s":0.46,"s2":1.15,"p":0.0002},{"h":13,"h2":13.5,"s":0.46,"s2":1.16,"p":0.0002},{"h":13.5,"h2":14,"s":0.46,"s2":1.18,"p":0.0002},{"h":14,"h2":14.5,"s":0.46,"s2":1.18,"p":0.0002},{"h":14.5,"h2":15,"s":0.44,"s2":1.2,"p":0.0002},{"h":15,"h2":15.5,"s":0.45,"s2":1.22,"p":0.0002},{"h":15.5,"h2":16,"s":0.46,"s2":1.1,"p":0.0002},{"h":16,"h2":16.5,"s":0.48,"s2":0.95,"p":0.0002},{"h":16.5,"h2":17,"s":0.42,"s2":0.9,"p":0.0002},{"h":17,"h2":17.5,"s":0.38,"s2":0.86,"p":0.0002},{"h":17.5,"h2":18,"s":0.4,"s2":0.82,"p":0.0002},{"h":18,"h2":18.5,"s":0.38,"s2":0.84,"p":0.0002},{"h":18.5,"h2":19,"s":0.4,"s2":0.8,"p":0.0002},{"h":19,"h2":19.5,"s":0.42,"s2":0.82,"p":0.0002},{"h":19.5,"h2":20,"s":0.5,"s2":0.78,"p":0.0002},{"h":20,"h2":20.3,"s":0.55,"s2":0.75,"p":0.0002},
{"h":20.5,"h2":21,"s":0.66,"s2":0.72,"p":0.0002},{"h":21,"h2":21.6,"s":0.62,"s2":0.72,"p":0.0002},{"h":22.4,"h2":22.7,"s":0.7,"s2":0.74,"p":0.0002},{"h":21.7,"h2":22.6,"s":0.5,"s2":0.56,"p":0.0002},{"h":20.5,"h2":21.5,"s":0.5,"s2":0.56,"p":0.0002},{"h":0.4,"h2":1,"s":0.4,"s2":0.44,"p":0.0002},{"h":1.5,"h2":2.1,"s":0.44,"s2":0.47,"p":0.0002},{"h":5.95,"h2":6.05,"s":1.2,"s2":1.3,"p":0.0002},{"h":8.4,"h2":14.4,"s":1.2,"s2":1.25,"p":0.0004},{"h":14.6,"h2":15.4,"s":1.3,"s2":1.38,"p":0.0006},{"h":15.4,"h2":16,"s":1.3,"s2":1.33,"p":0.0008},{"h":10.2,"h2":10.6,"s":1.33,"s2":1.37,"p":0.0004},{"h":10,"h2":10.35,"s":1.46,"s2":1.5,"p":0.0012},
{"h":7.5,"h2":16,"s":0.5,"s2":1.1,"p":0.0006},{"h":8,"h2":16,"s":0.6,"s2":0.64,"p":0.0017},{"h":8,"h2":16,"s":0.7,"s2":0.74,"p":0.002},{"h":8,"h2":16,"s":0.8,"s2":0.84,"p":0.0018},{"h":8,"h2":15.5,"s":0.9,"s2":0.94,"p":0.002},{"h":8,"h2":15.5,"s":1,"s2":1.04,"p":0.0022},{"h":8.5,"h2":15.3,"s":1.08,"s2":1.14,"p":0.0032},{"h":13.8,"h2":15,"s":1.06,"s2":1.12,"p":0.0048},{"h":9,"h2":10.3,"s":1.06,"s2":1.12,"p":0.0045},{"h":11.8,"h2":12.3,"s":0.68,"s2":0.72,"p":0.004}],
"radar":[
{"ring":1,"k":0,"r":1},{"ring":1,"k":1,"r":1},{"ring":1,"k":2,"r":1},{"ring":1,"k":3,"r":1},{"ring":1,"k":4,"r":1},{"ring":1,"k":5,"r":1},{"ring":1,"k":6,"r":1},
{"ring":2,"k":0,"r":2},{"ring":2,"k":1,"r":2},{"ring":2,"k":2,"r":2},{"ring":2,"k":3,"r":2},{"ring":2,"k":4,"r":2},{"ring":2,"k":5,"r":2},{"ring":2,"k":6,"r":2},
{"ring":3,"k":0,"r":3},{"ring":3,"k":1,"r":3},{"ring":3,"k":2,"r":3},{"ring":3,"k":3,"r":3},{"ring":3,"k":4,"r":3},{"ring":3,"k":5,"r":3},{"ring":3,"k":6,"r":3},
{"ring":4,"k":0,"r":4},{"ring":4,"k":1,"r":4},{"ring":4,"k":2,"r":4},{"ring":4,"k":3,"r":4},{"ring":4,"k":4,"r":4},{"ring":4,"k":5,"r":4},{"ring":4,"k":6,"r":4},
{"spoke":1,"k":0,"r":4},{"spoke":1,"k":1,"r":4},{"spoke":1,"k":2,"r":4},{"spoke":1,"k":3,"r":4},{"spoke":1,"k":4,"r":4},{"spoke":1,"k":5,"r":4},{"spoke":1,"k":6,"r":4},
{"sp":"AL","k":0,"r":1},{"sp":"AL","k":1,"r":1.1},{"sp":"AL","k":2,"r":3.45},{"sp":"AL","k":3,"r":1.3},{"sp":"AL","k":4,"r":1.23},{"sp":"AL","k":5,"r":1},{"sp":"AL","k":6,"r":1.72},
{"sp":"TA","k":0,"r":1.46},{"sp":"TA","k":1,"r":2.7},{"sp":"TA","k":2,"r":1.25},{"sp":"TA","k":3,"r":3.6},{"sp":"TA","k":4,"r":3.7},{"sp":"TA","k":5,"r":2.2},{"sp":"TA","k":6,"r":1.17},
{"sp":"TR","k":0,"r":2.02},{"sp":"TR","k":1,"r":1.93},{"sp":"TR","k":2,"r":1.27},{"sp":"TR","k":3,"r":3.33},{"sp":"TR","k":4,"r":3.84},{"sp":"TR","k":5,"r":2.58},{"sp":"TR","k":6,"r":1.48},
{"sp":"YU","k":0,"r":4},{"sp":"YU","k":1,"r":3.7},{"sp":"YU","k":2,"r":1.83},{"sp":"YU","k":3,"r":2.2},{"sp":"YU","k":4,"r":3.4},{"sp":"YU","k":5,"r":3.65},{"sp":"YU","k":6,"r":4},
{"t":"0.61","k":0,"r":1},{"t":"0.68","k":0,"r":2},{"t":"0.75","k":0,"r":3},{"t":"0.82","k":0,"r":4},
{"t":"0.13","k":1,"r":1},{"t":"0.17","k":1,"r":2},{"t":"0.21","k":1,"r":3},{"t":"0.25","k":1,"r":4},
{"t":"0.40","k":2,"r":1},{"t":"0.53","k":2,"r":2},{"t":"0.66","k":2,"r":3},{"t":"0.79","k":2,"r":4},
{"t":"0.21","k":3,"r":1},{"t":"0.27","k":3,"r":2},{"t":"0.33","k":3,"r":3},{"t":"0.39","k":3,"r":4},
{"t":"0.04","k":4,"r":1},{"t":"0.09","k":4,"r":2},{"t":"0.14","k":4,"r":3},{"t":"0.19","k":4,"r":4},
{"t":"0.01","k":5,"r":1},{"t":"0.03","k":5,"r":2},{"t":"0.05","k":5,"r":3},{"t":"0.07","k":5,"r":4},
{"t":"0.53","k":6,"r":1},{"t":"0.68","k":6,"r":2},{"t":"0.83","k":6,"r":3},{"t":"0.98","k":6,"r":4}]
},
"spacing":-12,
"resolve":{"scale":{"color":"independent","size":"independent","theta":"independent","radius":"independent"},"legend":{"color":"independent"}},
"vconcat":[
{"bounds":"flush","spacing":0,"resolve":{"scale":{"color":"independent","size":"independent","theta":"independent","radius":"independent"},"legend":{"color":"independent"}},
"hconcat":[
{"width":118.5,"height":1,"data":{"values":[]},"mark":{"type":"text"},"encoding":{}},
{"width":569.5,"height":438,
"encoding":{"x":{"field":"x","type":"quantitative","scale":{"domain":[0,2],"nice":false},"axis":{"values":[0,0.2,0.4,0.6,0.8,1,1.2,1.4,1.6,1.8,2],"format":".1~f","title":"Speed (m/sec)","titleFontSize":24,"titleFontWeight":"normal","titleX":292,"titleY":52,"labelFontSize":25,"labelPadding":12,"labelColor":"#111","grid":true,"gridColor":"#8c8c8c","domainColor":"#111","domainWidth":1.6,"tickColor":"#111","tickSize":4,"labelOverlap":false,"labelFlush":false}},
"y":{"field":"q","type":"quantitative","scale":{"domain":[0,1],"nice":false},"axis":{"values":[0,0.25,0.5,0.75,1],"format":".2~f","title":"Quantiles","titleFontSize":24,"titleFontWeight":"normal","titleX":-65,"titleY":223,"labelFontSize":25,"labelPadding":5,"labelColor":"#111","grid":true,"gridColor":"#8c8c8c","domainColor":"#111","domainWidth":1.6,"tickColor":"#111","tickSize":4,"labelOverlap":false,"labelFlush":false}}},
"layer":[
{"data":{"values":[{"x":1.5016,"x2":1.955,"q":0.968,"q2":0.671}]},"mark":{"type":"rect","fill":"white","stroke":"#222","strokeWidth":1.5},"encoding":{"x2":{"field":"x2"},"y2":{"field":"q2"}}},
{"data":{"name":"cdf"},"mark":{"type":"point","filled":true,"opacity":1,"size":42},"encoding":{"color":{"field":"sp","type":"nominal","scale":{"domain":["AL","TA","TR","YU"],"range":["#0b0b24","#3b3a80","#3f7fc0","#74c0d2"]},"legend":{"orient":"none","legendX":466,"legendY":22,"title":null,"symbolType":"circle","symbolSize":225,"labelFontSize":21,"labelOffset":12,"rowPadding":9,"padding":0,"symbolOpacity":1}}}},
{"data":{"name":"means"},"mark":{"type":"rule","stroke":"#111","strokeWidth":3.4},"encoding":{"x":{"field":"lo","type":"quantitative"},"x2":{"field":"hi"}}},
{"data":{"name":"means"},"mark":{"type":"point","filled":true,"opacity":1,"size":240,"stroke":"#111","strokeWidth":1.2},"encoding":{"fill":{"field":"sp","type":"nominal","scale":{"domain":["AL","TA","TR","YU"],"range":["#0b0b24","#3b3a80","#3f7fc0","#74c0d2"]},"legend":null}}},
{"data":{"values":[{"x":1.059,"q":1.052,"t":"CDFs"}]},"mark":{"type":"text","fontSize":27,"color":"#111"},"encoding":{"text":{"field":"t"}}},
{"data":{"values":[{"x":-0.335,"q":1.096,"t":"A"}]},"mark":{"type":"text","fontSize":28,"fontWeight":"bold","color":"#111"},"encoding":{"text":{"field":"t"}}}
]},
{"width":830,"height":530,
"encoding":{"theta":{"field":"h","type":"quantitative","scale":{"domain":[0,24],"range":[0,6.28319]}},"radius":{"field":"s","type":"quantitative","scale":{"type":"linear","domain":[0,2],"range":[0,225]}}},
"layer":[
{"data":{"name":"heatB"},"mark":{"type":"arc","fill":null,"stroke":"#0d0d28","strokeWidth":0.6},"encoding":{"theta2":{"field":"h2"},"radius2":{"field":"s2"}}},
{"data":{"name":"heatB"},"mark":{"type":"arc"},"encoding":{"theta2":{"field":"h2"},"radius2":{"field":"s2"},"color":{"field":"p","type":"quantitative","scale":{"domain":[0,0.0016,0.0032,0.0048,0.0064,0.008],"range":["#09091e","#26266a","#3561a8","#4391bf","#7ccdd6","#e8fafa"]},"legend":{"orient":"none","legendX":698,"legendY":-16,"title":"probability","titleOrient":"right","titleAnchor":"middle","titleFontSize":23,"titlePadding":-22,"gradientLength":190,"gradientThickness":22,"gradientStrokeColor":"#444","gradientStrokeWidth":1,"values":[0,0.008],"format":".3~f","labelFontSize":14,"labelOffset":6}}}},
{"data":{"name":"dotRings"},"mark":{"type":"arc","fill":null,"stroke":"#c6c6c6","strokeWidth":1,"strokeDash":[1,5]},"encoding":{"theta2":{"field":"h2"},"radius2":{"field":"s2"}}},
{"data":{"name":"dotSpokes"},"mark":{"type":"arc","fill":null,"stroke":"#b8b8b8","strokeWidth":1,"strokeDash":[1,5]},"encoding":{"theta2":{"field":"h2"},"radius2":{"field":"s2"}}},
{"data":{"name":"spokes"},"mark":{"type":"arc","fill":null,"stroke":"#999","strokeWidth":1},"encoding":{"theta2":{"field":"h2"},"radius2":{"field":"s2"}}},
{"data":{"name":"rings"},"mark":{"type":"arc","fill":null,"stroke":"#999","strokeWidth":1.4},"encoding":{"theta2":{"field":"h2"},"radius2":{"field":"s2"}}},
{"data":{"name":"rim"},"mark":{"type":"arc","fill":null,"stroke":"#111","strokeWidth":2},"encoding":{"theta2":{"field":"h2"},"radius2":{"field":"s2"}}},
{"data":{"values":[{"h":0,"s":2.155,"t":"00:00"},{"h":2,"s":2.24,"t":"02:00"},{"h":4,"s":2.31,"t":"04:00"},{"h":6,"s":2.31,"t":"06:00"},{"h":8,"s":2.27,"t":"08:00"},{"h":10,"s":2.25,"t":"10:00"},{"h":12,"s":2.18,"t":"12:00"},{"h":14,"s":2.25,"t":"14:00"},{"h":16,"s":2.27,"t":"16:00"},{"h":18,"s":2.31,"t":"18:00"},{"h":20,"s":2.31,"t":"20:00"},{"h":22,"s":2.24,"t":"22:00"},{"h":1.15,"s":2.1,"t":"2.0"},{"h":1.2,"s":1.61,"t":"1.5"},{"h":2,"s":1.19,"t":"1.0 [m/s]"},{"h":1.55,"s":0.61,"t":"0.5"}]},"mark":{"type":"text","fontSize":21.5,"color":"#222"},"encoding":{"text":{"field":"t"}}},
{"data":{"values":[{"h":0.078,"s":2.61,"t":"Speed by time of day: Aggregate"}]},"mark":{"type":"text","fontSize":28,"color":"#111"},"encoding":{"text":{"field":"t"}}},
{"data":{"values":[{"h":20.89,"s":3.98,"t":"B"}]},"mark":{"type":"text","fontSize":28,"fontWeight":"bold","color":"#111"},"encoding":{"text":{"field":"t"}}}
]}
]},
{"bounds":"flush","spacing":0,"resolve":{"scale":{"color":"independent","size":"independent","theta":"independent","radius":"independent"},"legend":{"color":"independent"}},
"hconcat":[
{"width":64,"height":380,"data":{"values":[]},"mark":{"type":"text"},"encoding":{}},
{"width":351.5,"height":380,
"encoding":{"theta":{"field":"h","type":"quantitative","scale":{"domain":[0,24],"range":[0,6.28319]}},"radius":{"field":"s","type":"quantitative","scale":{"type":"linear","domain":[0,2],"range":[0,152]}}},
"layer":[
{"data":{"name":"heatAL"},"mark":{"type":"arc","fill":null,"stroke":"#0d0d28","strokeWidth":0.5},"encoding":{"theta2":{"field":"h2"},"radius2":{"field":"s2"}}},
{"data":{"name":"heatAL"},"mark":{"type":"arc"},"encoding":{"theta2":{"field":"h2"},"radius2":{"field":"s2"},"color":{"field":"p","type":"quantitative","scale":{"domain":[0,0.0012,0.0024,0.0036,0.0048,0.006],"range":["#09091e","#26266a","#3561a8","#4391bf","#7ccdd6","#e8fafa"]},"legend":null}}},
{"data":{"name":"dotRings"},"mark":{"type":"arc","fill":null,"stroke":"#c6c6c6","strokeWidth":0.9,"strokeDash":[1,4]},"encoding":{"theta2":{"field":"h2"},"radius2":{"field":"s2"}}},
{"data":{"name":"dotSpokes"},"mark":{"type":"arc","fill":null,"stroke":"#b8b8b8","strokeWidth":0.9,"strokeDash":[1,4]},"encoding":{"theta2":{"field":"h2"},"radius2":{"field":"s2"}}},
{"data":{"name":"spokes"},"mark":{"type":"arc","fill":null,"stroke":"#999","strokeWidth":1},"encoding":{"theta2":{"field":"h2"},"radius2":{"field":"s2"}}},
{"data":{"name":"rings"},"mark":{"type":"arc","fill":null,"stroke":"#999","strokeWidth":1.4},"encoding":{"theta2":{"field":"h2"},"radius2":{"field":"s2"}}},
{"data":{"name":"rim"},"mark":{"type":"arc","fill":null,"stroke":"#111","strokeWidth":2},"encoding":{"theta2":{"field":"h2"},"radius2":{"field":"s2"}}},
{"data":{"values":[{"h":0,"s":2.2,"t":"00:00"},{"h":22,"s":2.32,"t":"22:00"},{"h":20,"s":2.4,"t":"20:00"},{"h":18,"s":2.38,"t":"18:00"},{"h":16,"s":2.38,"t":"16:00"},{"h":14,"s":2.29,"t":"14:00"},{"h":12,"s":2.22,"t":"12:00"},{"h":1.65,"s":2.31,"t":"2.0 [m/s]"},{"h":1.2,"s":1.66,"t":"1.5"},{"h":1.3,"s":1.14,"t":"1.0"},{"h":1.5,"s":0.61,"t":"0.5"}]},"mark":{"type":"text","fontSize":17.5,"color":"#222"},"encoding":{"text":{"field":"t"}}},
{"data":{"values":[{"h":0,"s":2.92,"t":"AL"}]},"mark":{"type":"text","fontSize":26,"color":"#111"},"encoding":{"text":{"field":"t"}}},
{"data":{"values":[{"h":21.24,"s":4.3,"t":"C"}]},"mark":{"type":"text","fontSize":28,"fontWeight":"bold","color":"#111"},"encoding":{"text":{"field":"t"}}}
]},
{"width":351.5,"height":380,
"encoding":{"theta":{"field":"h","type":"quantitative","scale":{"domain":[0,24],"range":[0,6.28319]}},"radius":{"field":"s","type":"quantitative","scale":{"type":"linear","domain":[0,2],"range":[0,152]}}},
"layer":[
{"data":{"name":"heatTA"},"mark":{"type":"arc","fill":null,"stroke":"#0d0d28","strokeWidth":0.5},"encoding":{"theta2":{"field":"h2"},"radius2":{"field":"s2"}}},
{"data":{"name":"heatTA"},"mark":{"type":"arc"},"encoding":{"theta2":{"field":"h2"},"radius2":{"field":"s2"},"color":{"field":"p","type":"quantitative","scale":{"domain":[0,0.0012,0.0024,0.0036,0.0048,0.006],"range":["#09091e","#26266a","#3561a8","#4391bf","#7ccdd6","#e8fafa"]},"legend":null}}},
{"data":{"name":"dotRings"},"mark":{"type":"arc","fill":null,"stroke":"#c6c6c6","strokeWidth":0.9,"strokeDash":[1,4]},"encoding":{"theta2":{"field":"h2"},"radius2":{"field":"s2"}}},
{"data":{"name":"dotSpokes"},"mark":{"type":"arc","fill":null,"stroke":"#b8b8b8","strokeWidth":0.9,"strokeDash":[1,4]},"encoding":{"theta2":{"field":"h2"},"radius2":{"field":"s2"}}},
{"data":{"name":"spokes"},"mark":{"type":"arc","fill":null,"stroke":"#999","strokeWidth":1},"encoding":{"theta2":{"field":"h2"},"radius2":{"field":"s2"}}},
{"data":{"name":"rings"},"mark":{"type":"arc","fill":null,"stroke":"#999","strokeWidth":1.4},"encoding":{"theta2":{"field":"h2"},"radius2":{"field":"s2"}}},
{"data":{"name":"rim"},"mark":{"type":"arc","fill":null,"stroke":"#111","strokeWidth":2},"encoding":{"theta2":{"field":"h2"},"radius2":{"field":"s2"}}},
{"data":{"values":[{"h":0,"s":2.2,"t":"00:00"},{"h":12,"s":2.22,"t":"12:00"},{"h":1.23,"s":2.21,"t":"2.0"},{"h":1.32,"s":1.67,"t":"1.5"},{"h":1.47,"s":1.16,"t":"1.0"},{"h":1.5,"s":0.61,"t":"0.5"}]},"mark":{"type":"text","fontSize":17.5,"color":"#222"},"encoding":{"text":{"field":"t"}}},
{"data":{"values":[{"h":0,"s":2.92,"t":"TA"}]},"mark":{"type":"text","fontSize":26,"color":"#111"},"encoding":{"text":{"field":"t"}}}
]},
{"width":351.5,"height":380,
"encoding":{"theta":{"field":"h","type":"quantitative","scale":{"domain":[0,24],"range":[0,6.28319]}},"radius":{"field":"s","type":"quantitative","scale":{"type":"linear","domain":[0,2],"range":[0,152]}}},
"layer":[
{"data":{"name":"heatTR"},"mark":{"type":"arc","fill":null,"stroke":"#0d0d28","strokeWidth":0.5},"encoding":{"theta2":{"field":"h2"},"radius2":{"field":"s2"}}},
{"data":{"name":"heatTR"},"mark":{"type":"arc"},"encoding":{"theta2":{"field":"h2"},"radius2":{"field":"s2"},"color":{"field":"p","type":"quantitative","scale":{"domain":[0,0.0012,0.0024,0.0036,0.0048,0.006],"range":["#09091e","#26266a","#3561a8","#4391bf","#7ccdd6","#e8fafa"]},"legend":null}}},
{"data":{"name":"dotRings"},"mark":{"type":"arc","fill":null,"stroke":"#c6c6c6","strokeWidth":0.9,"strokeDash":[1,4]},"encoding":{"theta2":{"field":"h2"},"radius2":{"field":"s2"}}},
{"data":{"name":"dotSpokes"},"mark":{"type":"arc","fill":null,"stroke":"#b8b8b8","strokeWidth":0.9,"strokeDash":[1,4]},"encoding":{"theta2":{"field":"h2"},"radius2":{"field":"s2"}}},
{"data":{"name":"spokes"},"mark":{"type":"arc","fill":null,"stroke":"#999","strokeWidth":1},"encoding":{"theta2":{"field":"h2"},"radius2":{"field":"s2"}}},
{"data":{"name":"rings"},"mark":{"type":"arc","fill":null,"stroke":"#999","strokeWidth":1.4},"encoding":{"theta2":{"field":"h2"},"radius2":{"field":"s2"}}},
{"data":{"name":"rim"},"mark":{"type":"arc","fill":null,"stroke":"#111","strokeWidth":2},"encoding":{"theta2":{"field":"h2"},"radius2":{"field":"s2"}}},
{"data":{"values":[{"h":0,"s":2.2,"t":"00:00"},{"h":12,"s":2.22,"t":"12:00"},{"h":1.23,"s":2.21,"t":"2.0"},{"h":1.32,"s":1.67,"t":"1.5"},{"h":1.47,"s":1.16,"t":"1.0"},{"h":1.85,"s":0.64,"t":"0.5"}]},"mark":{"type":"text","fontSize":17.5,"color":"#222"},"encoding":{"text":{"field":"t"}}},
{"data":{"values":[{"h":0,"s":2.92,"t":"TR"}]},"mark":{"type":"text","fontSize":26,"color":"#111"},"encoding":{"text":{"field":"t"}}}
]},
{"width":351.5,"height":380,
"encoding":{"theta":{"field":"h","type":"quantitative","scale":{"domain":[0,24],"range":[0,6.28319]}},"radius":{"field":"s","type":"quantitative","scale":{"type":"linear","domain":[0,2],"range":[0,152]}}},
"layer":[
{"data":{"name":"heatYU"},"mark":{"type":"arc","fill":null,"stroke":"#0d0d28","strokeWidth":0.5},"encoding":{"theta2":{"field":"h2"},"radius2":{"field":"s2"}}},
{"data":{"name":"heatYU"},"mark":{"type":"arc"},"encoding":{"theta2":{"field":"h2"},"radius2":{"field":"s2"},"color":{"field":"p","type":"quantitative","scale":{"domain":[0,0.0012,0.0024,0.0036,0.0048,0.006],"range":["#09091e","#26266a","#3561a8","#4391bf","#7ccdd6","#e8fafa"]},"legend":{"orient":"none","legendX":343.5,"legendY":-88,"title":"probability","titleOrient":"right","titleAnchor":"middle","titleFontSize":20,"titlePadding":-22,"gradientLength":147,"gradientThickness":22,"gradientStrokeColor":"#444","gradientStrokeWidth":1,"values":[0,0.006],"format":".3~f","labelFontSize":14,"labelOffset":6}}}},
{"data":{"name":"dotRings"},"mark":{"type":"arc","fill":null,"stroke":"#c6c6c6","strokeWidth":0.9,"strokeDash":[1,4]},"encoding":{"theta2":{"field":"h2"},"radius2":{"field":"s2"}}},
{"data":{"name":"dotSpokes"},"mark":{"type":"arc","fill":null,"stroke":"#b8b8b8","strokeWidth":0.9,"strokeDash":[1,4]},"encoding":{"theta2":{"field":"h2"},"radius2":{"field":"s2"}}},
{"data":{"name":"spokes"},"mark":{"type":"arc","fill":null,"stroke":"#999","strokeWidth":1},"encoding":{"theta2":{"field":"h2"},"radius2":{"field":"s2"}}},
{"data":{"name":"rings"},"mark":{"type":"arc","fill":null,"stroke":"#999","strokeWidth":1.4},"encoding":{"theta2":{"field":"h2"},"radius2":{"field":"s2"}}},
{"data":{"name":"rim"},"mark":{"type":"arc","fill":null,"stroke":"#111","strokeWidth":2},"encoding":{"theta2":{"field":"h2"},"radius2":{"field":"s2"}}},
{"data":{"values":[{"h":0,"s":2.2,"t":"00:00"},{"h":2,"s":2.33,"t":"02:00"},{"h":4,"s":2.38,"t":"04:00"},{"h":6,"s":2.38,"t":"06:00"},{"h":8,"s":2.38,"t":"08:00"},{"h":10,"s":2.3,"t":"10:00"},{"h":12,"s":2.22,"t":"12:00"},{"h":1.08,"s":2.17,"t":"2.0"},{"h":1.14,"s":1.67,"t":"1.5"},{"h":1.2,"s":1.14,"t":"1.0"},{"h":1.4,"s":0.6,"t":"0.5"}]},"mark":{"type":"text","fontSize":17.5,"color":"#222"},"encoding":{"text":{"field":"t"}}},
{"data":{"values":[{"h":0,"s":2.92,"t":"YU"}]},"mark":{"type":"text","fontSize":26,"color":"#111"},"encoding":{"text":{"field":"t"}}}
]}
]},
{"bounds":"flush","spacing":0,"resolve":{"scale":{"color":"independent","size":"independent","theta":"independent","radius":"independent"},"legend":{"color":"independent"}},
"hconcat":[
{"width":820,"height":642,
"encoding":{"x":{"field":"i","type":"quantitative","scale":{"domain":[-1.3556,6.258],"nice":false,"zero":false},"axis":null},"y":{"field":"j","type":"quantitative","scale":{"domain":[3.415,-1.512],"nice":false,"zero":false},"axis":null}},
"layer":[
{"data":{"values":[{"i":-0.6035,"i2":3.333,"j":-0.261},{"i":-0.6035,"i2":3.333,"j":0.56},{"i":-0.6035,"i2":3.333,"j":1.474},{"i":-0.6035,"i2":3.333,"j":2.417}]},"mark":{"type":"rule","stroke":"#444","strokeWidth":1.4,"strokeDash":[7,7]},"encoding":{"x2":{"field":"i2"}}},
{"data":{"values":[{"i":3.333,"j":-0.261,"i2":4.104,"j2":-0.299},{"i":3.333,"j":0.56,"i2":4.104,"j2":-0.069},{"i":3.333,"j":1.474,"i2":4.104,"j2":0.514},{"i":3.333,"j":2.417,"i2":4.104,"j2":1.42},{"i":3.333,"j":3.17,"i2":4.104,"j2":3.327},{"i":4.104,"j":-0.299,"i2":4.104,"j2":3.327},{"i":5.59,"j":-0.43,"i2":5.59,"j2":0.583},{"i":5.59,"j":-0.43,"i2":5.655,"j2":-0.43},{"i":5.59,"j":0.583,"i2":5.655,"j2":0.583}]},"mark":{"type":"rule","stroke":"#111","strokeWidth":1.8},"encoding":{"x2":{"field":"i2"},"y2":{"field":"j2"}}},
{"data":{"values":[{"i":4.624,"i2":6.119,"j":-1.136,"j2":0.852},{"i":4.624,"i2":6.119,"j":-1.136,"j2":-0.852}]},"mark":{"type":"rect","fill":null,"stroke":"#555","strokeWidth":1.5},"encoding":{"x2":{"field":"i2"},"y2":{"field":"j2"}}},
{"data":{"values":[{"sp":"AL","i":0,"j":0,"pct":71.3},{"sp":"TA","i":1,"j":0,"pct":43},{"sp":"TR","i":2,"j":0,"pct":43.3},{"sp":"YU","i":3,"j":0,"pct":50.7},{"sp":"AL","i":0,"j":1,"pct":22.6},{"sp":"TA","i":1,"j":1,"pct":36.3},{"sp":"TR","i":2,"j":1,"pct":34.7},{"sp":"YU","i":3,"j":1,"pct":27.4},{"sp":"AL","i":0,"j":2,"pct":4.9},{"sp":"TA","i":1,"j":2,"pct":17.3},{"sp":"TR","i":2,"j":2,"pct":17.9},{"sp":"YU","i":3,"j":2,"pct":15.6},{"sp":"AL","i":0,"j":3,"pct":1.1},{"sp":"TA","i":1,"j":3,"pct":3.9},{"sp":"TR","i":2,"j":3,"pct":4.1},{"sp":"YU","i":3,"j":3,"pct":6.2},{"sp":"key","i":5.125,"j":-0.437,"pct":71.3},{"sp":"key","i":5.125,"j":0.215,"pct":36.3},{"sp":"key","i":5.125,"j":0.583,"pct":1.1}]},"mark":{"type":"point","filled":true,"opacity":1},"encoding":{"size":{"field":"pct","type":"quantitative","scale":{"domain":[1.1,71.3],"range":[256,8100],"zero":false},"legend":null},"color":{"field":"pct","type":"quantitative","scale":{"domain":[1.1,4.9,15.6,17.3,22.6,27.4,34.7,43,50.7,71.3],"range":["#3c1050","#42144f","#761a60","#7d1a61","#9b2262","#ac2566","#cb4158","#e3624f","#ef865a","#fdeaaf"]},"legend":null}}},
{"data":{"values":[{"i":0,"j":0,"t":"71.3%"},{"i":1,"j":0,"t":"43%"},{"i":2,"j":0,"t":"43.3%"},{"i":3,"j":0,"t":"50.7%"}]},"mark":{"type":"text","fontSize":19,"color":"#111"},"encoding":{"text":{"field":"t"}}},
{"data":{"values":[{"i":0,"j":1,"t":"22.6%","c":"l"},{"i":1,"j":1,"t":"36.3%","c":"d"},{"i":2,"j":1,"t":"34.7%","c":"d"},{"i":3,"j":1,"t":"27.4%","c":"l"}]},"mark":{"type":"text","fontSize":17.5},"encoding":{"text":{"field":"t"},"color":{"field":"c","type":"nominal","scale":{"domain":["d","l"],"range":["#111","#ffffff"]},"legend":null}}},
{"data":{"values":[{"i":1,"j":2,"t":"17.3%"},{"i":2,"j":2,"t":"17.9%"},{"i":3,"j":2,"t":"15.6%"}]},"mark":{"type":"text","fontSize":14,"color":"#ffffff"},"encoding":{"text":{"field":"t"}}},
{"data":{"values":[{"i":0,"j":2,"t":"4.9%"},{"i":0,"j":3,"t":"1.1%"},{"i":1,"j":3,"t":"3.9%"},{"i":2,"j":3,"t":"4.1%"},{"i":3,"j":3,"t":"6.2%"}]},"mark":{"type":"text","fontSize":14,"color":"#222","dy":-27},"encoding":{"text":{"field":"t"}}},
{"data":{"values":[{"i":0.046,"j":-0.637,"t":"AL"},{"i":1.05,"j":-0.637,"t":"TA"},{"i":2.06,"j":-0.637,"t":"TR"},{"i":3.06,"j":-0.637,"t":"YU"},{"i":-0.82,"j":-0.02,"t":"S"},{"i":-0.82,"j":0.98,"t":"B"},{"i":-0.82,"j":1.975,"t":"D"},{"i":-0.84,"j":2.98,"t":"VD"}]},"mark":{"type":"text","fontSize":23,"color":"#111"},"encoding":{"text":{"field":"t"}}},
{"data":{"values":[{"i":4.308,"j":0.622,"t":"Top 50%"},{"i":4.308,"j":2.371,"t":"Bottom 50%"}]},"mark":{"type":"text","fontSize":23,"color":"#111","angle":90},"encoding":{"text":{"field":"t"}}},
{"data":{"values":[{"i":5.367,"j":-0.998,"t":"% Depth Obs"}]},"mark":{"type":"text","fontSize":19,"color":"#222"},"encoding":{"text":{"field":"t"}}},
{"data":{"values":[{"i":5.822,"j":-0.541,"t":"71.3%"},{"i":5.748,"j":0.69,"t":"1.1%"}]},"mark":{"type":"text","fontSize":16,"color":"#333"},"encoding":{"text":{"field":"t"}}},
{"data":{"values":[{"i":-1.142,"j":-1.304,"t":"D"}]},"mark":{"type":"text","fontSize":28,"fontWeight":"bold","color":"#111"},"encoding":{"text":{"field":"t"}}}
]},
{"width":715,"height":642,
"data":{"name":"radar"},
"transform":[{"calculate":"datum.r*sin(datum.k*2*PI/7)","as":"ux"},{"calculate":"datum.r*cos(datum.k*2*PI/7)","as":"uy"}],
"encoding":{"x":{"field":"ux","type":"quantitative","scale":{"domain":[-6.153,5.966],"nice":false,"zero":false},"axis":null},"y":{"field":"uy","type":"quantitative","scale":{"domain":[-4.89,5.991],"nice":false,"zero":false},"axis":null}},
"layer":[
{"transform":[{"filter":"isValid(datum.ring)"}],"mark":{"type":"line","interpolate":"linear-closed","stroke":"#9a9a9a","strokeWidth":1.2},"encoding":{"detail":{"field":"ring"},"order":{"field":"k"}}},
{"transform":[{"filter":"isValid(datum.spoke)"}],"mark":{"type":"rule","stroke":"#888","strokeWidth":2},"encoding":{"x2":{"datum":0},"y2":{"datum":0}}},
{"transform":[{"filter":"datum.sp=='AL'"}],"mark":{"type":"line","interpolate":"linear-closed","stroke":"#0b0b24","fill":"#0b0b24","fillOpacity":0.3,"strokeWidth":3},"encoding":{"order":{"field":"k"}}},
{"transform":[{"filter":"datum.sp=='AL'"}],"mark":{"type":"point","filled":true,"opacity":1,"size":115},"encoding":{"color":{"field":"sp","type":"nominal","scale":{"domain":["AL","TA","TR","YU"],"range":["#0b0b24","#3b3a80","#3f7fc0","#74c0d2"]},"legend":{"orient":"none","legendX":563,"legendY":56,"title":null,"strokeColor":"#333","padding":2,"clipHeight":23.7,"rowPadding":0,"symbolType":"M-1,-0.054 L1,-0.054 L1,0.054 L-1,0.054 Z M-0.196,0 A0.196,0.196 0 1,1 0.196,0 A0.196,0.196 0 1,1 -0.196,0 Z","symbolSize":3136,"labelFontSize":18,"labelOffset":7}}}},
{"transform":[{"filter":"datum.sp=='TA'"}],"mark":{"type":"line","interpolate":"linear-closed","stroke":"#3b3a80","fill":"#3b3a80","fillOpacity":0.3,"strokeWidth":3},"encoding":{"order":{"field":"k"}}},
{"transform":[{"filter":"datum.sp=='TA'"}],"mark":{"type":"point","filled":true,"opacity":1,"size":115},"encoding":{"color":{"field":"sp","type":"nominal","scale":{"domain":["AL","TA","TR","YU"],"range":["#0b0b24","#3b3a80","#3f7fc0","#74c0d2"]}}}},
{"transform":[{"filter":"datum.sp=='TR'"}],"mark":{"type":"line","interpolate":"linear-closed","stroke":"#3f7fc0","fill":"#3f7fc0","fillOpacity":0.3,"strokeWidth":3},"encoding":{"order":{"field":"k"}}},
{"transform":[{"filter":"datum.sp=='TR'"}],"mark":{"type":"point","filled":true,"opacity":1,"size":115},"encoding":{"color":{"field":"sp","type":"nominal","scale":{"domain":["AL","TA","TR","YU"],"range":["#0b0b24","#3b3a80","#3f7fc0","#74c0d2"]}}}},
{"transform":[{"filter":"datum.sp=='YU'"}],"mark":{"type":"line","interpolate":"linear-closed","stroke":"#74c0d2","fill":"#74c0d2","fillOpacity":0.3,"strokeWidth":3},"encoding":{"order":{"field":"k"}}},
{"transform":[{"filter":"datum.sp=='YU'"}],"mark":{"type":"point","filled":true,"opacity":1,"size":115},"encoding":{"color":{"field":"sp","type":"nominal","scale":{"domain":["AL","TA","TR","YU"],"range":["#0b0b24","#3b3a80","#3f7fc0","#74c0d2"]}}}},
{"transform":[{"filter":"isValid(datum.t)"}],"mark":{"type":"text","fontSize":15,"color":"#111"},"encoding":{"text":{"field":"t"}}},
{"data":{"values":[{"ux":-0.02,"uy":4.96,"t":"Avg Swim\nSpeed"},{"ux":4.44,"uy":2.63,"t":"Speed\nStd Dev"},{"ux":2.49,"uy":-4.43,"t":"Beneath\nSurface"},{"ux":-4.37,"uy":2.79,"t":"Clockwise\nDir Pref"}]},"mark":{"type":"text","fontSize":23,"color":"#222","lineBreak":"\n","lineHeight":28,"dy":-14},"encoding":{"text":{"field":"t"}}},
{"data":{"values":[{"ux":5.14,"uy":-1.05,"t":"Surface"},{"ux":-2.44,"uy":-4.2,"t":"Deep"}]},"mark":{"type":"text","fontSize":23,"color":"#222"},"encoding":{"text":{"field":"t"}}},
{"data":{"values":[{"ux":-5.22,"uy":-1.24,"t":"Very\nDeep"}]},"mark":{"type":"text","fontSize":23,"color":"#222","align":"left","lineBreak":"\n","lineHeight":28,"dy":-14},"encoding":{"text":{"field":"t"}}},
{"data":{"values":[{"ux":-5.39,"uy":5.53,"t":"E"}]},"mark":{"type":"text","fontSize":28,"fontWeight":"bold","color":"#111"},"encoding":{"text":{"field":"t"}}}
]}
]}
]}
